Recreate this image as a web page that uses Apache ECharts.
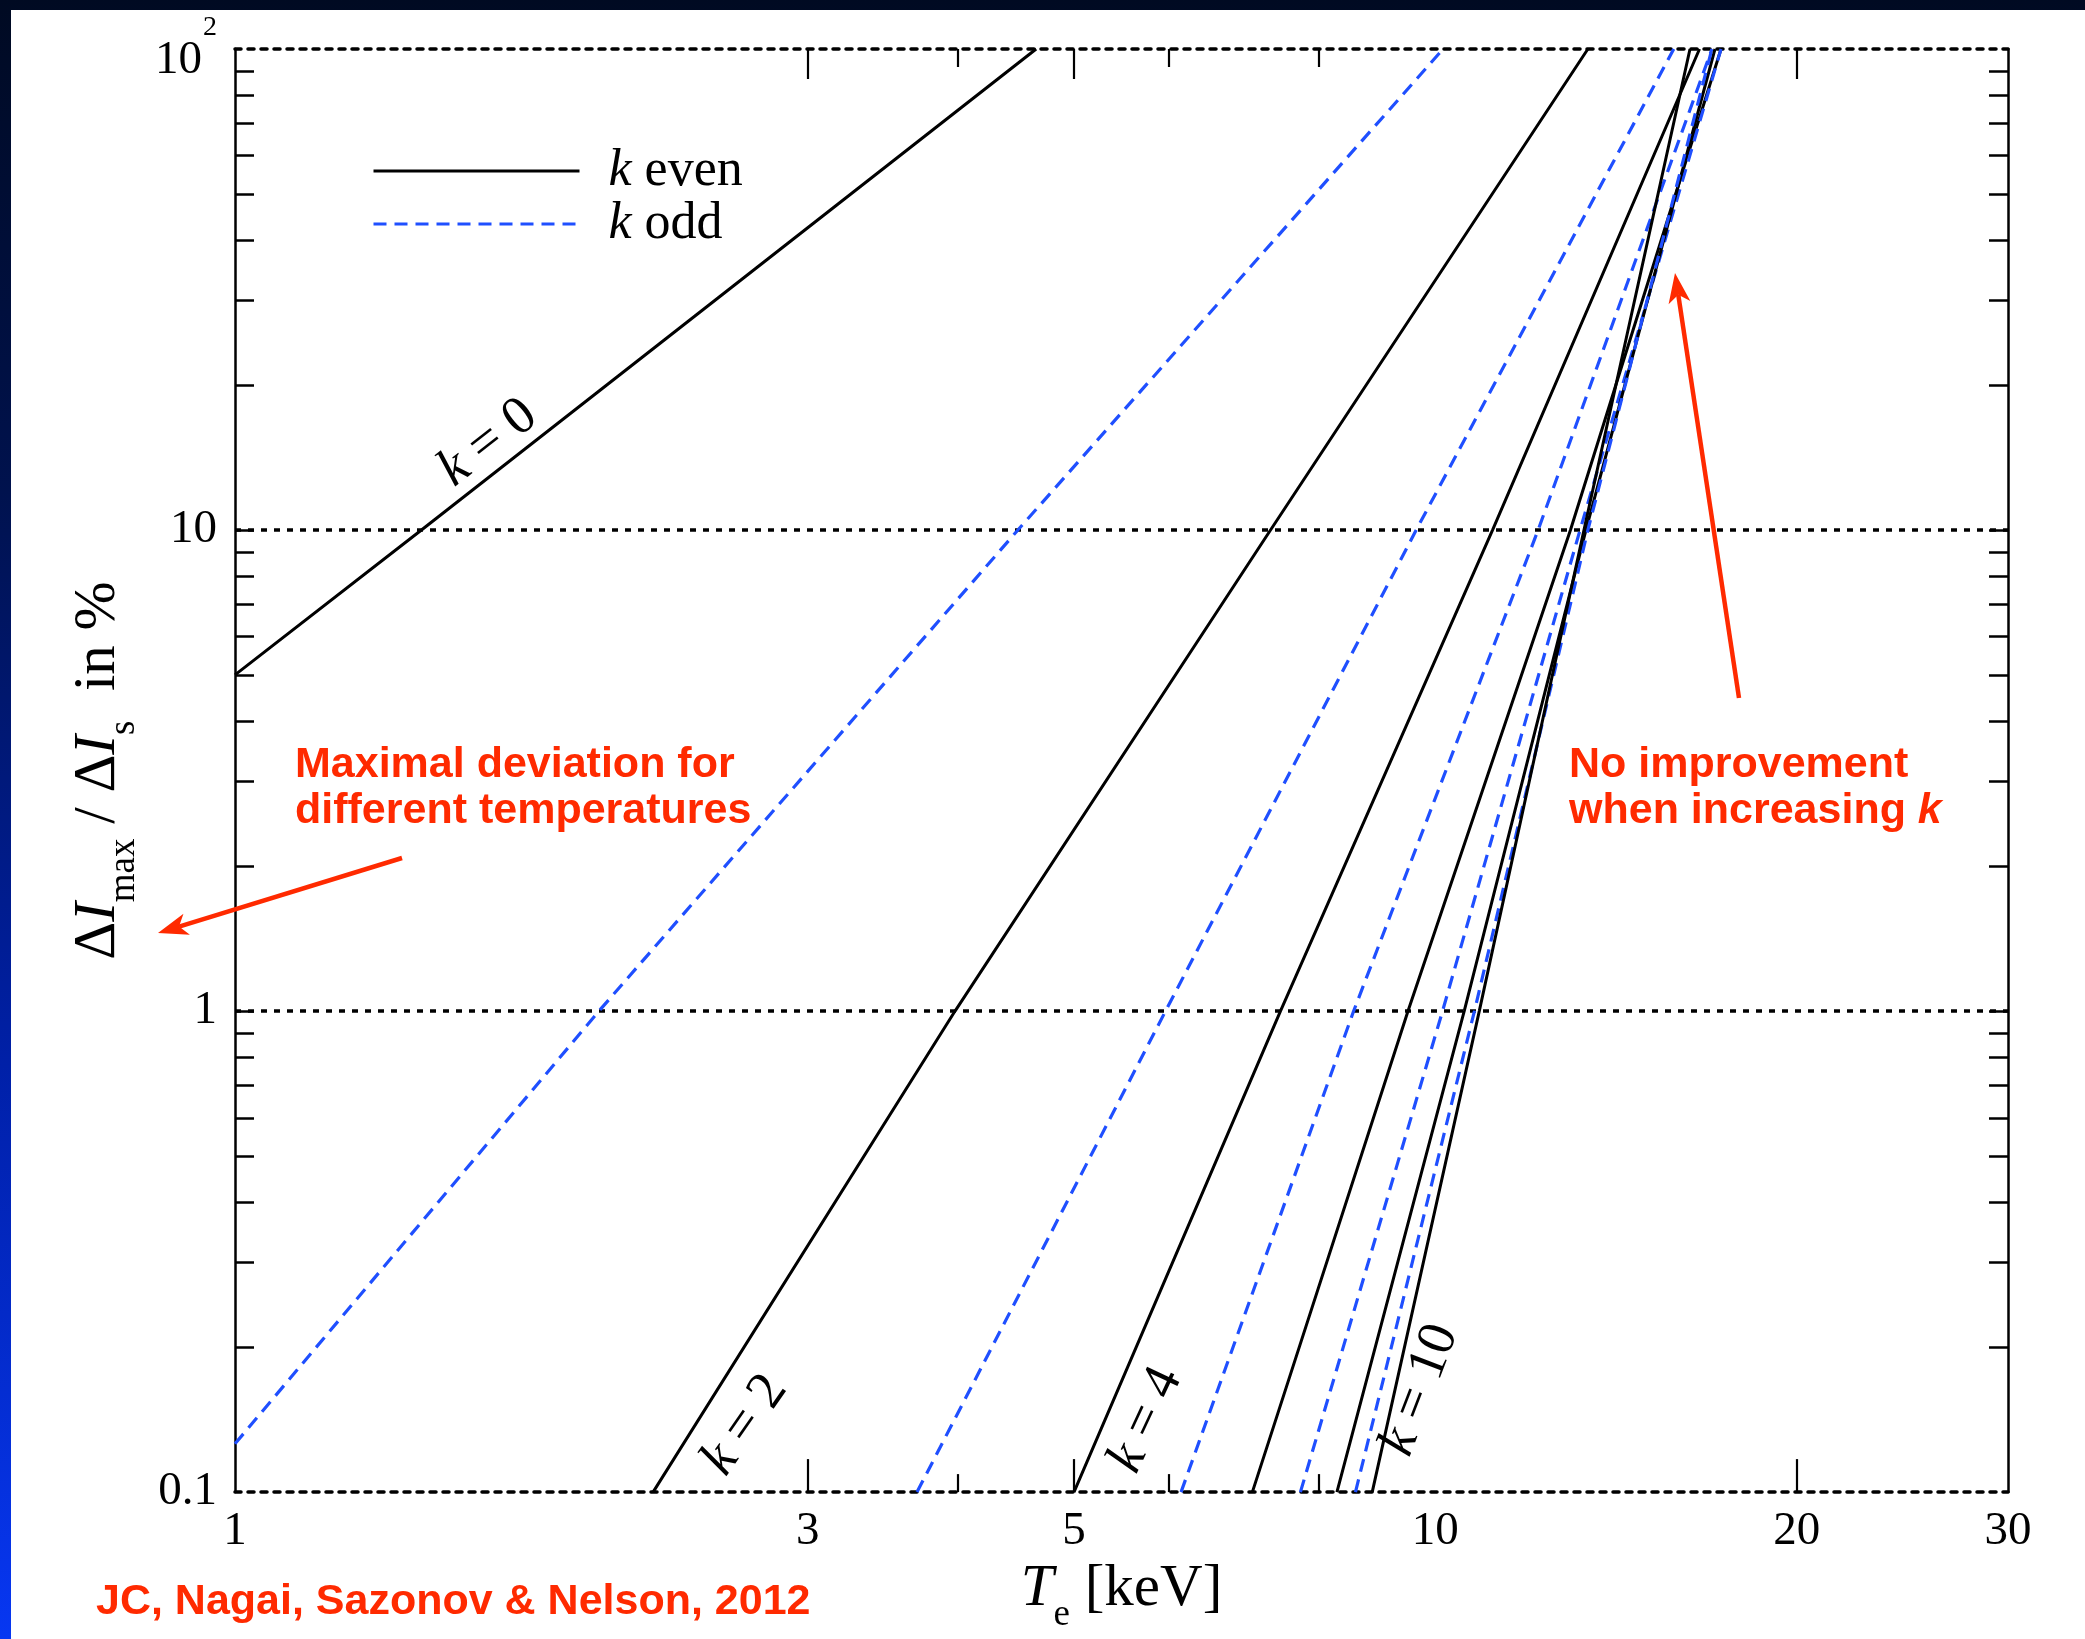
<!DOCTYPE html>
<html>
<head>
<meta charset="utf-8">
<script src="https://cdn.jsdelivr.net/npm/echarts@6/dist/echarts.min.js"></script>
<style>
  html, body { margin: 0; padding: 0; }
  #frame {
    position: relative; width: 2085px; height: 1639px; overflow: hidden;
    background: linear-gradient(to bottom, #000a22 0%, #00124e 30%, #0020a8 65%, #0737f2 100%);
  }
  #paper { position: absolute; left: 11px; top: 10px; right: 0; bottom: 0; background: #fff; }
  #chart { position: absolute; left: 0; top: 0; width: 2085px; height: 1639px; }
</style>
</head>
<body>
<div id="frame"><div id="paper"></div><div id="chart"></div></div>
<script>
// Maximal deviation levels (%) where each curve crosses the decade lines
const devLevels = [0.1, 1, 10, 100];

// k = 0 and k = 1 start at the left edge (Te = 1 keV)
const tempK0 = [1, 1.43, 4.65];
const devK0 = [5.0, 10, 100];
const tempK1 = [1, 2.01, 4.49, 10.15];
const devK1 = [0.126, 1, 10, 100];

// Higher orders: temperature (keV) at deviation 0.1, 1, 10, 100 %
const tempK2 = [2.23, 3.98, 7.29, 13.4];
const tempK3 = [3.70, 5.96, 9.64, 15.8];
const tempK4 = [5.00, 7.43, 11.16, 16.6];
const tempK5 = [6.14, 8.55, 12.18, 17.0];
const tempK6 = [7.04, 9.49, 12.96, 17.3];
const tempK7 = [7.72, 10.14, 13.2, 17.3];
const tempK8 = [8.28, 10.57, 13.35, 17.1];
const tempK9 = [8.58, 10.78, 13.4, 17.0];
const tempK10 = [8.86, 10.88, 13.3, 16.3];

// Axis ticks and labels
const xLabelValues = [1, 3, 5, 10, 20, 30];
const xLongTicks = [3, 5, 20];
const xShortTicks = [4, 6, 8];
const yTickValues = [0.2, 0.3, 0.4, 0.5, 0.6, 0.7, 0.8, 0.9, 1,
                     2, 3, 4, 5, 6, 7, 8, 9, 10,
                     20, 30, 40, 50, 60, 70, 80, 90];

const curves = [
  [0, tempK0, devK0], [1, tempK1, devK1],
  [2, tempK2, devLevels], [3, tempK3, devLevels], [4, tempK4, devLevels],
  [5, tempK5, devLevels], [6, tempK6, devLevels], [7, tempK7, devLevels],
  [8, tempK8, devLevels], [9, tempK9, devLevels], [10, tempK10, devLevels]
];

const BLUE = '#1f4fff';
const RED = '#ff2a00';
const SERIF = '"Liberation Serif", "DejaVu Serif", serif';
const SANS = '"Liberation Sans", Arial, sans-serif';
const DOTTED = { color: '#000', width: 3.5, type: [6, 7] };

const series = curves.map(([k, temps, devs]) => {
  const odd = k % 2 === 1;
  return {
    type: 'line',
    name: odd ? 'k odd' : 'k even',
    data: temps.map((t, i) => [t, devs[i]]),
    symbol: 'none',
    silent: true,
    xAxisIndex: 0, yAxisIndex: 0,
    itemStyle: { color: odd ? BLUE : '#000' },
    lineStyle: odd ? { color: BLUE, width: 3.2, type: [13, 8] }
                   : { color: '#000', width: 3, type: 'solid' },
    z: 3
  };
});

function tickOnlyX(position, values, length, border) {
  return {
    type: 'log', logBase: 10, min: 1, max: 30, position: position, gridIndex: 0,
    axisLine: { show: !!border, onZero: false, lineStyle: DOTTED },
    axisTick: { show: true, inside: true, length: length, customValues: values,
                lineStyle: { color: '#000', width: 2.2 } },
    axisLabel: { show: false },
    splitLine: { show: false }
  };
}

const chart = echarts.init(document.getElementById('chart'), null, { renderer: 'canvas' });

// Notched arrow head polygon from tail to tip
function arrowHead(tail, tip, len, half, notch) {
  const dx = tip[0] - tail[0], dy = tip[1] - tail[1];
  const L = Math.hypot(dx, dy), ux = dx / L, uy = dy / L, px = -uy, py = ux;
  const bx = tip[0] - ux * len, by = tip[1] - uy * len;
  return [tip, [bx + px * half, by + py * half],
          [tip[0] - ux * (len - notch), tip[1] - uy * (len - notch)],
          [bx - px * half, by - py * half]];
}
function arrow(tail, tip) {
  const head = arrowHead(tail, tip, 30, 11, 8);
  const dx = tip[0] - tail[0], dy = tip[1] - tail[1], L = Math.hypot(dx, dy);
  const end = [tip[0] - dx / L * 22, tip[1] - dy / L * 22];
  return [
    { type: 'line', shape: { x1: tail[0], y1: tail[1], x2: end[0], y2: end[1] },
      style: { stroke: RED, lineWidth: 4.5 }, z: 10 },
    { type: 'polygon', shape: { points: head }, style: { fill: RED }, z: 10 }
  ];
}

function curveLabel(num, x, y, deg) {
  return {
    type: 'text', x: x, y: y, rotation: deg * Math.PI / 180, z: 10,
    style: {
      text: '{i|k} = ' + num, fill: '#000', fontFamily: SERIF, fontSize: 54,
      align: 'center', verticalAlign: 'middle',
      rich: { i: { fontStyle: 'italic', fontFamily: SERIF, fontSize: 54 } }
    }
  };
}

// Rich styles for titles: main glyphs are lifted so that subscripts sit low
const titleMain = { fontFamily: SERIF, fontSize: 59, color: '#000', verticalAlign: 'middle', padding: [0, 0, 52, 0] };
const titleItalic = Object.assign({}, titleMain, { fontStyle: 'italic' });
const titleSub = { fontFamily: SERIF, fontSize: 37, color: '#000', verticalAlign: 'middle' };

const option = {
  animation: false,
  backgroundColor: 'transparent',
  textStyle: { fontFamily: SERIF },
  grid: { left: 235, right: 77, top: 49, bottom: 142 },
  legend: {
    data: ['k even', 'k odd'],
    orient: 'vertical', left: 367, top: 140,
    itemWidth: 206, itemHeight: 26, itemGap: 1,
    selectedMode: false,
    itemStyle: { opacity: 0, borderWidth: 0 },
    lineStyle: { width: 3 },
    formatter: n => (n === 'k even' ? '{i|k} even' : '{i|k} odd'),
    textStyle: {
      fontFamily: SERIF, fontSize: 52, color: '#000', padding: [0, 0, 0, 24],
      rich: { i: { fontStyle: 'italic', fontFamily: SERIF, fontSize: 52 } }
    }
  },
  xAxis: [
    {
      type: 'log', logBase: 10, min: 1, max: 30, position: 'bottom',
      axisLine: { show: true, onZero: false, lineStyle: DOTTED },
      axisTick: { show: true, inside: true, length: 33, customValues: xLongTicks,
                  lineStyle: { color: '#000', width: 2.2 } },
      axisLabel: { show: true, customValues: xLabelValues, margin: 16,
                   fontFamily: SERIF, fontSize: 47, color: '#000',
                   formatter: v => String(v) },
      splitLine: { show: false },
      name: '{i|T}{sub|e}{t| [keV]}',
      nameLocation: 'middle', nameGap: 62,
      nameTextStyle: { rich: { i: titleItalic, sub: titleSub, t: titleMain } }
    },
    tickOnlyX('bottom', xShortTicks, 18, false),
    tickOnlyX('top', xLongTicks, 30, true),
    tickOnlyX('top', xShortTicks, 18, false)
  ],
  yAxis: [
    {
      type: 'log', logBase: 10, min: 0.1, max: 100, position: 'left',
      axisLine: { show: true, onZero: false, lineStyle: { color: '#000', width: 2.5 } },
      axisTick: { show: true, inside: true, length: 19, customValues: yTickValues,
                  lineStyle: { color: '#000', width: 2.5 } },
      axisLabel: {
        show: true, margin: 18, color: '#000',
        formatter: v => (Math.abs(v - 100) < 1e-6 ? '{m|10}{s|2}' : '{n|' + String(+v.toPrecision(3)) + '}'),
        rich: {
          n: { fontFamily: SERIF, fontSize: 47, color: '#000', verticalAlign: 'middle' },
          m: { fontFamily: SERIF, fontSize: 47, color: '#000', verticalAlign: 'middle', padding: [24, 0, 0, 0] },
          s: { fontFamily: SERIF, fontSize: 28, color: '#000', verticalAlign: 'middle', padding: [0, 0, 42, 1] }
        }
      },
      splitLine: { show: false },
      name: '{d|Δ}{i|I}{sub|max}{d| / Δ}{i|I}{sub|s}{d|  in %}',
      nameLocation: 'middle', nameRotate: 90, nameGap: 55,
      nameTextStyle: { rich: { d: titleMain, i: titleItalic, sub: titleSub } }
    },
    {
      type: 'log', logBase: 10, min: 0.1, max: 100, position: 'right',
      axisLine: { show: true, onZero: false, lineStyle: { color: '#000', width: 2.5 } },
      axisTick: { show: true, inside: true, length: 19, customValues: yTickValues,
                  lineStyle: { color: '#000', width: 2.5 } },
      axisLabel: { show: false },
      splitLine: { show: false }
    },
    {
      // decade grid lines (1 and 10); the plot's top and bottom edges come from the x axes
      type: 'log', logBase: 10, min: 0.1, max: 100, position: 'left',
      axisLine: { show: false }, axisTick: { show: false }, axisLabel: { show: false },
      splitLine: { show: true, showMinLine: false, showMaxLine: false, lineStyle: DOTTED }
    }
  ],
  series: series,
  graphic: {
    elements: [
      curveLabel('0', 488, 443, 38),
      curveLabel('2', 745, 1425, 55),
      curveLabel('4', 1146, 1420, 65),
      curveLabel('10', 1420, 1390, 69),
      {
        type: 'text', x: 295, y: 742, z: 10,
        style: {
          text: 'Maximal deviation for\ndifferent temperatures',
          fill: RED, fontFamily: SANS, fontWeight: 'bold', fontSize: 43, lineHeight: 46,
          align: 'left', verticalAlign: 'top'
        }
      },
      {
        type: 'text', x: 1569, y: 742, z: 10,
        style: {
          text: 'No improvement\nwhen increasing {bi|k}',
          fill: RED, fontFamily: SANS, fontWeight: 'bold', fontSize: 43, lineHeight: 46,
          align: 'left', verticalAlign: 'top',
          rich: { bi: { fill: RED, fontFamily: SANS, fontWeight: 'bold', fontStyle: 'italic', fontSize: 43, lineHeight: 46 } }
        }
      },
      {
        type: 'text', x: 96, y: 1602, z: 10,
        style: {
          text: 'JC, Nagai, Sazonov & Nelson, 2012',
          fill: RED, fontFamily: SANS, fontWeight: 'bold', fontSize: 43,
          align: 'left', verticalAlign: 'middle'
        }
      }
    ].concat(arrow([402, 858], [158, 933]), arrow([1739, 698], [1675, 273]))
  }
};

chart.setOption(option);
</script>
</body>
</html>
